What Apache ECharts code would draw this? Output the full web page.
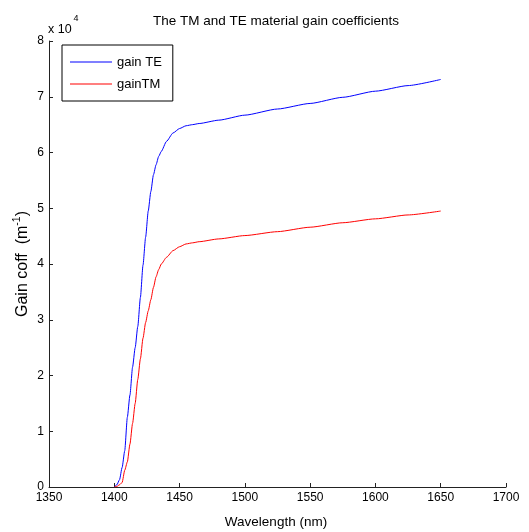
<!DOCTYPE html>
<html>
<head>
<meta charset="utf-8">
<script src="https://cdn.jsdelivr.net/npm/echarts@6/dist/echarts.min.js"></script>
<style>
html,body{margin:0;padding:0;background:#fff;}
#chart{width:529px;height:532px;}
</style>
</head>
<body>
<div id="chart"></div>
<script>
// Data (gain in units of 1e4 m^-1)
const wavelength = [1400,1402,1404,1406,1408,1410,1412,1414,1416,1418,1420,1422,1424,1426,1428,1430,1432,1434,1436,1440,1445,1450,1455,1460,1465,1480,1500,1525,1550,1575,1600,1625,1650];
const gainTE = [0,0.04,0.13,0.35,0.65,1.25,1.65,2.15,2.5,2.88,3.4,3.98,4.48,4.95,5.3,5.6,5.78,5.93,6.02,6.2,6.35,6.43,6.48,6.5,6.52,6.58,6.67,6.78,6.88,6.99,7.1,7.2,7.31];
const gainTM = [0,0.01,0.04,0.08,0.3,0.45,0.77,1.14,1.5,1.93,2.3,2.67,2.95,3.16,3.36,3.58,3.77,3.9,4.0,4.12,4.24,4.31,4.36,4.38,4.4,4.45,4.51,4.58,4.66,4.74,4.81,4.88,4.95];
const xTicks = [1350,1400,1450,1500,1550,1600,1650,1700];
const yTicks = [0,1,2,3,4,5,6,7,8];
const seriesNames = ['gain TE','gainTM'];
const seriesColors = ['#0000ff','#ff0000'];
const titleText = 'The TM and TE material gain coefficients';
const xName = 'Wavelength (nm)';
const yName = 'Gain coff  (m{s|-1})';

const FONT = 'Liberation Sans, Arial, sans-serif';
const chart = echarts.init(document.getElementById('chart'));
const pairs = (ys) => wavelength.map((w,i)=>[w, ys[i]]);

chart.setOption({
  animation:false,
  backgroundColor:'#fff',
  textStyle:{fontFamily:FONT},
  grid:{left:49,right:23,top:41,bottom:45,containLabel:false},
  graphic:[
    {type:'text',x:276,y:14,style:{text:titleText,fontFamily:FONT,fontSize:13.5,fill:'#000',textAlign:'center',textVerticalAlign:'top'}},
    {type:'text',x:48,y:23,style:{text:'x 10',fontFamily:FONT,fontSize:12.5,fill:'#000',textVerticalAlign:'top'}},
    {type:'text',x:73.5,y:14,style:{text:'4',fontFamily:FONT,fontSize:9,fill:'#000',textVerticalAlign:'top'}},
    {type:'text',x:276,y:522,style:{text:xName,fontFamily:FONT,fontSize:13.5,fill:'#000',textAlign:'center',textVerticalAlign:'middle'}},
    {type:'text',x:23,y:264,rotation:Math.PI/2,style:{text:yName,fontFamily:FONT,fontSize:16,fill:'#000',
      textAlign:'center',textVerticalAlign:'middle',
      rich:{s:{fontSize:10.5,fontFamily:FONT,fill:'#000',verticalAlign:'top',padding:[0,0,11,0]}}}}
  ],
  legend:{
    left:62,top:45,orient:'vertical',
    data:seriesNames.map((n,i)=>({name:n,icon:'rect',
      itemStyle:{color:seriesColors[i],borderWidth:0}})),
    borderColor:'#000',borderWidth:1,backgroundColor:'#fff',
    padding:[10,11,10,8],itemGap:8,itemWidth:42,itemHeight:1,
    itemStyle:{borderWidth:0},
    textStyle:{fontFamily:FONT,fontSize:13,color:'#000',lineHeight:14}
  },
  xAxis:{
    type:'value',min:xTicks[0],max:xTicks[xTicks.length-1],interval:50,
    axisLine:{show:true,onZero:false,lineStyle:{color:'#222',width:1}},
    axisTick:{show:true,inside:true,length:4,lineStyle:{color:'#222'}},
    axisLabel:{fontFamily:FONT,fontSize:12,color:'#000',margin:5,formatter:(v)=>String(v)},
    splitLine:{show:false}
  },
  yAxis:{
    type:'value',min:0,max:8,interval:1,
    axisLine:{show:true,lineStyle:{color:'#222',width:1}},
    axisTick:{show:true,inside:true,length:4,lineStyle:{color:'#222'}},
    axisLabel:{fontFamily:FONT,fontSize:12,color:'#000',margin:5,formatter:(v)=>String(v)},
    splitLine:{show:false}
  },
  series:[
    {name:seriesNames[0],type:'line',data:pairs(gainTE),symbol:'none',smooth:0.2,smoothMonotone:'x',
     lineStyle:{color:seriesColors[0],width:1},itemStyle:{color:seriesColors[0]}},
    {name:seriesNames[1],type:'line',data:pairs(gainTM),symbol:'none',smooth:0.2,smoothMonotone:'x',
     lineStyle:{color:seriesColors[1],width:1},itemStyle:{color:seriesColors[1]}}
  ]
});
</script>
</body>
</html>
